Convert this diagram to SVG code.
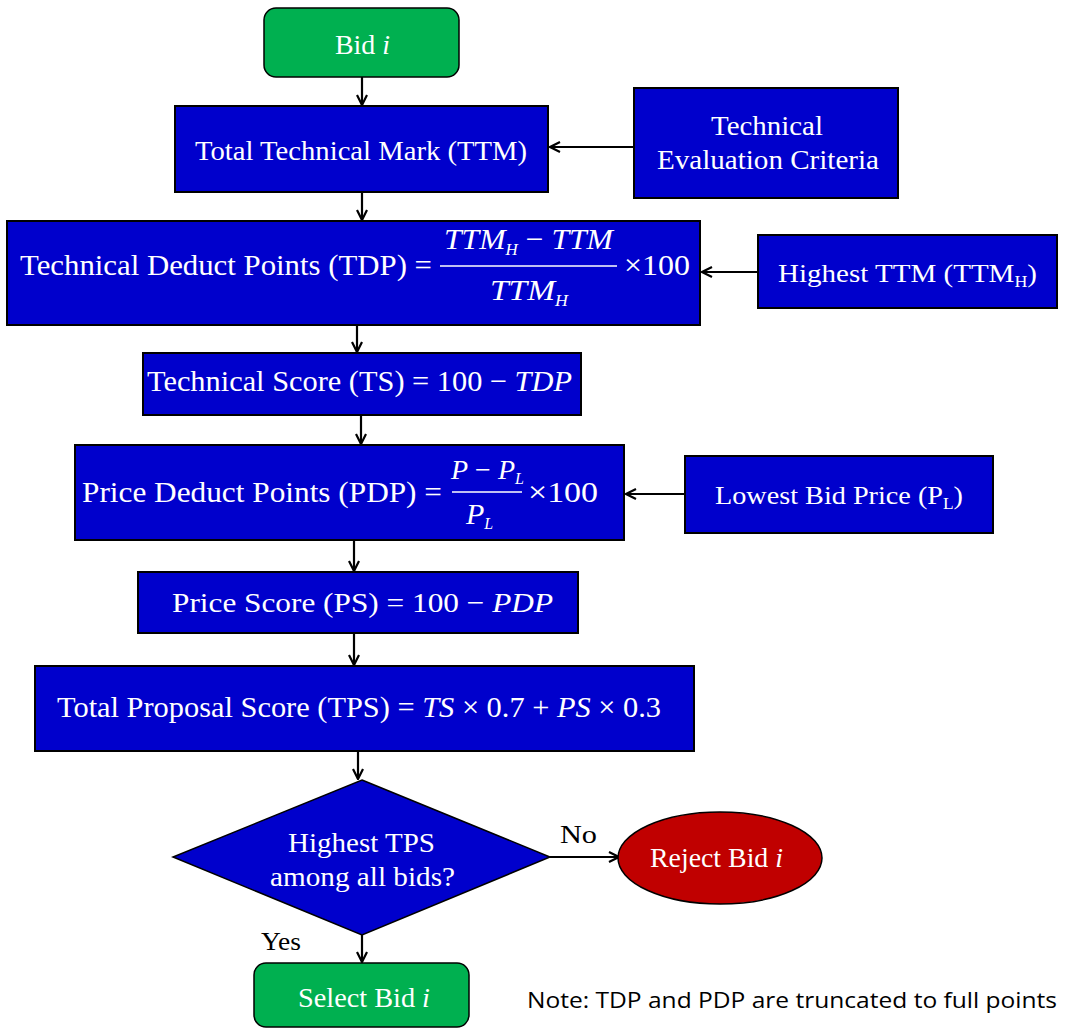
<svg xmlns="http://www.w3.org/2000/svg" width="1065" height="1029" viewBox="0 0 1065 1029">
<defs>
<marker id="arr" viewBox="0 0 12 12" refX="11" refY="6" markerWidth="12" markerHeight="12" markerUnits="userSpaceOnUse" orient="auto">
<path d="M1,1 L11,6 L1,11" fill="none" stroke="#000" stroke-width="2.2"/>
</marker>
<style>
.box{fill:#0000CC;stroke:#000;stroke-width:2}
.green{fill:#00B050;stroke:#000;stroke-width:1.5}
.t{font-family:"Liberation Serif","Times New Roman",Tinos,serif;fill:#fff}
.f26{font-size:26px}
.f28{font-size:28px}
.f30{font-size:30px}
.i{font-style:italic}
.n{font-style:normal}
.k{fill:#000}
.sub{font-size:16px}
.con{stroke:#000;stroke-width:2.2;fill:none;marker-end:url(#arr)}
</style>
</defs>
<rect width="1065" height="1029" fill="#fff"/>

<g id="connectors">
<line class="con" x1="362" y1="77" x2="362" y2="105"/>
<line class="con" x1="634" y1="147" x2="550" y2="147"/>
<line class="con" x1="362" y1="192" x2="362" y2="220"/>
<line class="con" x1="758" y1="272" x2="702" y2="272"/>
<line class="con" x1="357" y1="325" x2="357" y2="352"/>
<line class="con" x1="361" y1="415" x2="361" y2="444"/>
<line class="con" x1="685" y1="494" x2="626" y2="494"/>
<line class="con" x1="354" y1="540" x2="354" y2="571"/>
<line class="con" x1="354" y1="633" x2="354" y2="665"/>
<line class="con" x1="358" y1="751" x2="358" y2="779"/>
<line class="con" x1="550" y1="857" x2="619" y2="857"/>
<line class="con" x1="362" y1="935" x2="362" y2="962"/>
<text class="t f26 k" x="560" y="843" textLength="37" lengthAdjust="spacingAndGlyphs">No</text>
<text class="t f26 k" x="261" y="950" textLength="40" lengthAdjust="spacingAndGlyphs">Yes</text>
</g>

<g id="bid">
<rect class="green" x="264" y="8" width="195" height="69" rx="12"/>
<text class="t f28" x="335" y="54" textLength="55" lengthAdjust="spacingAndGlyphs">Bid <tspan class="i">i</tspan></text>
</g>

<g id="ttm">
<rect class="box" x="175" y="106" width="373" height="86"/>
<text class="t f28" x="195" y="160" textLength="332" lengthAdjust="spacingAndGlyphs">Total Technical Mark (TTM)</text>
</g>

<g id="tec">
<rect class="box" x="634" y="88" width="264" height="110"/>
<text class="t f28" x="711" y="135" textLength="112" lengthAdjust="spacingAndGlyphs">Technical</text>
<text class="t f28" x="657" y="169" textLength="222" lengthAdjust="spacingAndGlyphs">Evaluation Criteria</text>
</g>

<g id="tdp">
<rect class="box" x="7" y="221" width="693" height="104"/>
<text class="t f30" x="20" y="275" textLength="412" lengthAdjust="spacingAndGlyphs">Technical Deduct Points (TDP) =</text>
<text class="t f30 i" x="444" y="249" textLength="169" lengthAdjust="spacingAndGlyphs">TTM<tspan class="sub" dy="6">H</tspan><tspan class="n" dy="-6"> − </tspan>TTM</text>
<line x1="440" y1="266" x2="617" y2="266" stroke="#fff" stroke-width="1.5"/>
<text class="t f30 i" x="490" y="300" textLength="78" lengthAdjust="spacingAndGlyphs">TTM<tspan class="sub" dy="6">H</tspan></text>
<text class="t f30" x="624" y="275" textLength="66" lengthAdjust="spacingAndGlyphs">×100</text>
</g>

<g id="htm">
<rect class="box" x="758" y="235" width="299" height="73"/>
<text class="t f26" x="778" y="282" textLength="259" lengthAdjust="spacingAndGlyphs">Highest TTM (TTM<tspan class="sub" dy="5">H</tspan><tspan dy="-5">)</tspan></text>
</g>

<g id="ts">
<rect class="box" x="143" y="353" width="438" height="62"/>
<text class="t f30" x="147" y="391" textLength="425" lengthAdjust="spacingAndGlyphs">Technical Score (TS) = 100 − <tspan class="i">TDP</tspan></text>
</g>

<g id="pdp">
<rect class="box" x="75" y="445" width="549" height="95"/>
<text class="t f30" x="82" y="502" textLength="360" lengthAdjust="spacingAndGlyphs">Price Deduct Points (PDP) =</text>
<text class="t f28 i" x="451" y="479">P<tspan class="n"> − </tspan>P<tspan class="sub" dy="5">L</tspan></text>
<line x1="452" y1="492" x2="522" y2="492" stroke="#fff" stroke-width="1.5"/>
<text class="t f30 i" x="466" y="524">P<tspan class="sub" dy="5">L</tspan></text>
<text class="t f30" x="528" y="502" textLength="70" lengthAdjust="spacingAndGlyphs">×100</text>
</g>

<g id="lbp">
<rect class="box" x="685" y="456" width="308" height="77"/>
<text class="t f26" x="715" y="504" textLength="248" lengthAdjust="spacingAndGlyphs">Lowest Bid Price (P<tspan class="sub" dy="5">L</tspan><tspan dy="-5">)</tspan></text>
</g>

<g id="ps">
<rect class="box" x="138" y="572" width="440" height="61"/>
<text class="t f28" x="172" y="612" textLength="381" lengthAdjust="spacingAndGlyphs">Price Score (PS) = 100 − <tspan class="i">PDP</tspan></text>
</g>

<g id="tps">
<rect class="box" x="35" y="666" width="659" height="85" stroke-width="3"/>
<text class="t f30" x="57" y="717" textLength="604" lengthAdjust="spacingAndGlyphs">Total Proposal Score (TPS) = <tspan class="i">TS</tspan> × 0.7 + <tspan class="i">PS</tspan> × 0.3</text>
</g>

<g id="dec">
<polygon points="362,780 550,857 362,935 173,857" fill="#0000CC" stroke="#000" stroke-width="1.5"/>
<text class="t f28" x="288" y="852" textLength="147" lengthAdjust="spacingAndGlyphs">Highest TPS</text>
<text class="t f28" x="270" y="886" textLength="185" lengthAdjust="spacingAndGlyphs">among all bids?</text>
</g>

<g id="rej">
<ellipse cx="720" cy="858" rx="102" ry="46" fill="#C00000" stroke="#000" stroke-width="1.5"/>
<text class="t f28" x="650" y="867" textLength="133" lengthAdjust="spacingAndGlyphs">Reject Bid <tspan class="i">i</tspan></text>
</g>

<g id="sel">
<rect class="green" x="254" y="963" width="215" height="64" rx="12"/>
<text class="t f28" x="298" y="1007" textLength="132" lengthAdjust="spacingAndGlyphs">Select Bid <tspan class="i">i</tspan></text>
</g>

<text x="527" y="1008" font-family="Open Sans, Liberation Sans, sans-serif" font-size="22" fill="#000" textLength="530" lengthAdjust="spacingAndGlyphs">Note: TDP and PDP are truncated to full points</text>
</svg>
